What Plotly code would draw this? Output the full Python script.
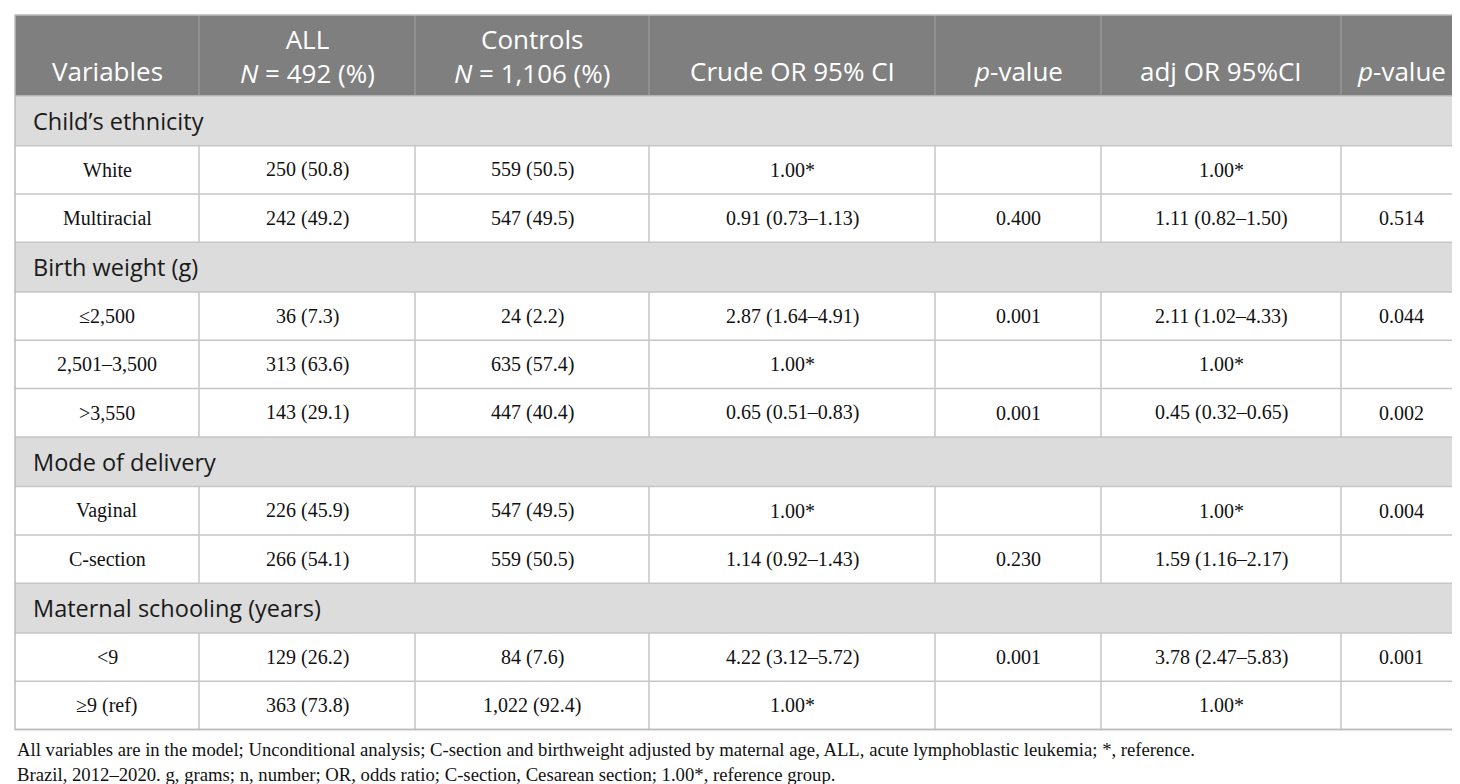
import plotly.graph_objects as go

# ---------------- data ----------------
header_top = ["", "ALL", "Controls", "", "", "", ""]
header_bottom = ["Variables", "<i>N</i> = 492 (%)", "<i>N</i> = 1,106 (%)",
                 "Crude OR 95% CI", "<i>p</i>-value", "adj OR 95%CI", "<i>p</i>-value"]

group_labels = ["Child’s ethnicity", "Birth weight (g)", "Mode of delivery",
                "Maternal schooling (years)"]
group_sizes = [2, 3, 2, 2]

variables = ["White", "Multiracial", "≤2,500", "2,501–3,500", ">3,550",
             "Vaginal", "C-section", "<9", "≥9 (ref)"]
all_cases = ["250 (50.8)", "242 (49.2)", "36 (7.3)", "313 (63.6)", "143 (29.1)",
             "226 (45.9)", "266 (54.1)", "129 (26.2)", "363 (73.8)"]
controls = ["559 (50.5)", "547 (49.5)", "24 (2.2)", "635 (57.4)", "447 (40.4)",
            "547 (49.5)", "559 (50.5)", "84 (7.6)", "1,022 (92.4)"]
crude_or = ["1.00*", "0.91 (0.73–1.13)", "2.87 (1.64–4.91)", "1.00*", "0.65 (0.51–0.83)",
            "1.00*", "1.14 (0.92–1.43)", "4.22 (3.12–5.72)", "1.00*"]
crude_p = ["", "0.400", "0.001", "", "0.001", "", "0.230", "0.001", ""]
adj_or = ["1.00*", "1.11 (0.82–1.50)", "2.11 (1.02–4.33)", "1.00*", "0.45 (0.32–0.65)",
          "1.00*", "1.59 (1.16–2.17)", "3.78 (2.47–5.83)", "1.00*"]
adj_p = ["", "0.514", "0.044", "", "0.002", "0.004", "", "0.001", ""]

footnotes = [
    "All variables are in the model; Unconditional analysis; C-section and birthweight adjusted by maternal age, ALL, acute lymphoblastic leukemia; *, reference.",
    "Brazil, 2012–2020. g, grams; n, number; OR, odds ratio; C-section, Cesarean section; 1.00*, reference group.",
]

# ---------------- layout constants ----------------
W, H = 1460, 784
col_edges = [7, 191, 407, 641, 927, 1093, 1333, 1453]
table_top = 7
header_bottom_y = 88
group_h = 49.7
row_h = 48.3

HEADER_BG = "#7f7f7f"
GROUP_BG = "#dcdcdc"
GRID = "#c6c6c6"
HEADER_GRID = "#a3a3a3"
SANS = "Open Sans"
SERIF = "Liberation Serif"

columns = [variables, all_cases, controls, crude_or, crude_p, adj_or, adj_p]

fig = go.Figure()
fig.add_trace(go.Scatter(x=[0, W], y=[0, H], mode="markers",
                         marker=dict(opacity=0), hoverinfo="skip", showlegend=False))

shapes = []
annotations = []

left, right = col_edges[0], col_edges[-1]

# header background
shapes.append(dict(type="rect", xref="x", yref="y", x0=left, x1=right,
                   y0=table_top, y1=header_bottom_y, fillcolor=HEADER_BG,
                   line=dict(width=0), layer="below"))
for xe in col_edges[1:-1]:
    shapes.append(dict(type="line", xref="x", yref="y", x0=xe, x1=xe,
                       y0=table_top, y1=header_bottom_y,
                       line=dict(color=HEADER_GRID, width=1)))

for i in range(len(col_edges) - 1):
    cx = (col_edges[i] + col_edges[i + 1]) / 2
    if header_top[i]:
        txt, yc = header_top[i] + "<br>" + header_bottom[i], 48
    else:
        txt, yc = header_bottom[i], 63
    annotations.append(dict(x=cx, y=yc, xref="x", yref="y", text=txt,
                            showarrow=False, xanchor="center", yanchor="middle",
                            align="center",
                            font=dict(family=SANS, size=26, color="white")))

# body
y = header_bottom_y
hlines = [y]
r = 0
for g, size in zip(group_labels, group_sizes):
    shapes.append(dict(type="rect", xref="x", yref="y", x0=left, x1=right,
                       y0=y, y1=y + group_h, fillcolor=GROUP_BG,
                       line=dict(width=0), layer="below"))
    annotations.append(dict(x=left + 16, y=y + group_h / 2, xref="x", yref="y",
                            text=g, showarrow=False, xanchor="left", yanchor="middle",
                            font=dict(family=SANS, size=23.5, color="#1a1a1a")))
    y += group_h
    hlines.append(y)
    for _ in range(size):
        for xe in col_edges[1:-1]:
            shapes.append(dict(type="line", xref="x", yref="y", x0=xe, x1=xe,
                               y0=y, y1=y + row_h, line=dict(color=GRID, width=1.5)))
        for c in range(len(columns)):
            txt = columns[c][r]
            if txt:
                cx = (col_edges[c] + col_edges[c + 1]) / 2
                annotations.append(dict(x=cx, y=y + row_h / 2, xref="x", yref="y",
                                        text=txt, showarrow=False, xanchor="center",
                                        yanchor="middle",
                                        font=dict(family=SERIF, size=20, color="#111111")))
        y += row_h
        hlines.append(y)
        r += 1

table_bottom = y
for hy in hlines:
    shapes.append(dict(type="line", xref="x", yref="y", x0=left, x1=right,
                       y0=hy, y1=hy, line=dict(color=GRID, width=1.5)))

# outer border
shapes.append(dict(type="rect", xref="x", yref="y", x0=left, x1=right,
                   y0=table_top, y1=table_bottom, line=dict(color="#bcbcbc", width=1.5),
                   fillcolor="rgba(0,0,0,0)"))

# footnotes
for k, ft in enumerate(footnotes):
    annotations.append(dict(x=left, y=table_bottom + 20 + k * 25, xref="x", yref="y",
                            text=ft, showarrow=False, xanchor="left", yanchor="middle",
                            font=dict(family=SERIF, size=18.7, color="#111111")))

fig.update_layout(
    width=W, height=H, margin=dict(l=0, r=0, t=0, b=0),
    paper_bgcolor="white", plot_bgcolor="white",
    xaxis=dict(range=[0, W], visible=False, fixedrange=True),
    yaxis=dict(range=[H, 0], visible=False, fixedrange=True),
    shapes=shapes, annotations=annotations, showlegend=False,
)

fig.write_html("out.html")
